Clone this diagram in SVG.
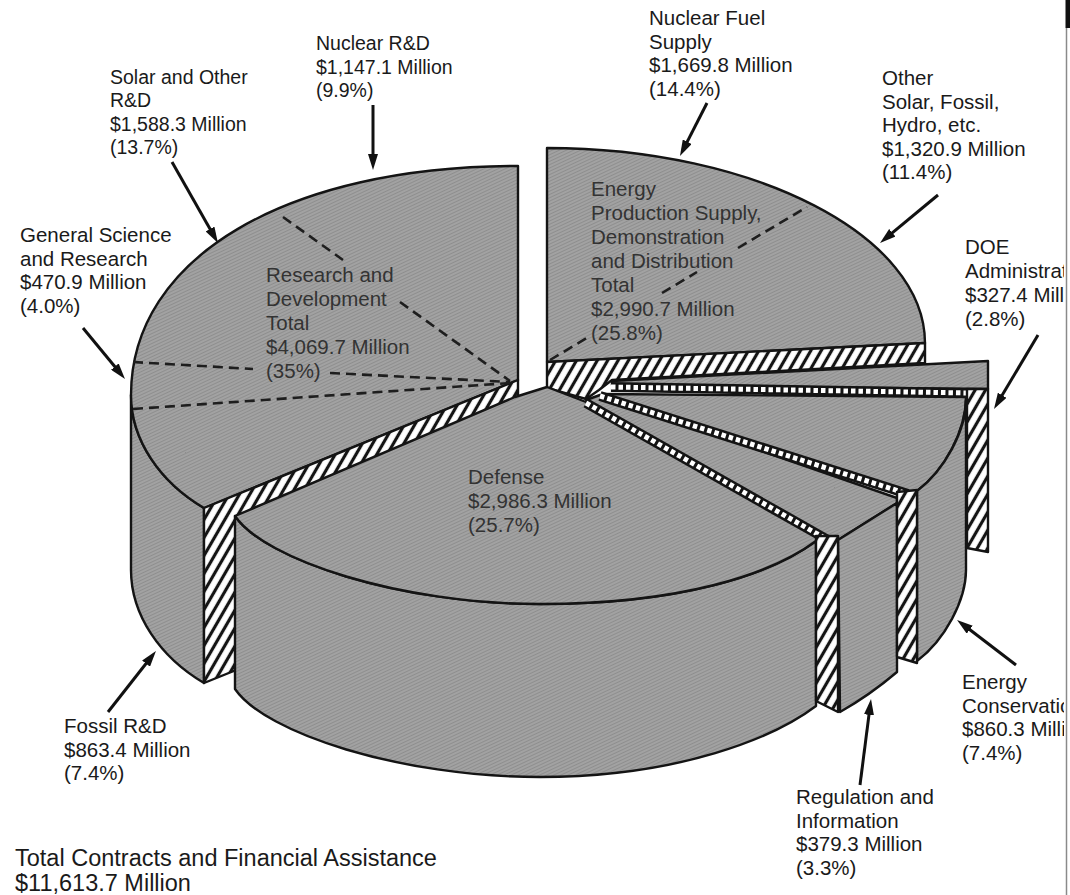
<svg xmlns="http://www.w3.org/2000/svg" width="1070" height="895" viewBox="0 0 1070 895">
  <defs>
    <!-- fine grey texture used on the visible faces of the pie -->
    <pattern id="tex" width="3" height="3" patternUnits="userSpaceOnUse" patternTransform="rotate(-25)">
      <rect width="3" height="3" fill="#a2a2a2"/>
      <rect width="3" height="1" fill="#8e8e8e"/>
    </pattern>
    <!-- diagonal hatching for the cut faces -->
    <pattern id="hatch" width="9" height="9" patternUnits="userSpaceOnUse" patternTransform="rotate(30)">
      <rect width="9" height="9" fill="#fff"/>
      <line x1="4.5" y1="0" x2="4.5" y2="9" stroke="#141414" stroke-width="3.2"/>
    </pattern>
    <marker id="ah" viewBox="0 0 16 10" refX="8" refY="5" markerWidth="16" markerHeight="10" markerUnits="userSpaceOnUse" orient="auto">
      <path d="M0,0 L16,5 L0,10 Z" fill="#111"/>
    </marker>
    <clipPath id="page">
      <rect x="0" y="0" width="1064" height="895"/>
    </clipPath>
  </defs>
  <style>
    .face { fill: url(#tex); stroke: #141414; stroke-width: 2.4; stroke-linejoin: round; }
    .cut { fill: url(#hatch); stroke: #141414; stroke-width: 2.4; stroke-linejoin: round; }
    .dash { fill: none; stroke: #1e1e1e; stroke-width: 2.6; stroke-dasharray: 10 6; }
    .lad-b { fill: none; stroke: #141414; stroke-width: 10; }
    .lad-w { fill: none; stroke: #fff; stroke-width: 5; stroke-dasharray: 4.5 3; }
    .lbl { font-family: "Liberation Sans", Arial, Helvetica, sans-serif; font-size: 20.5px; fill: #1a1a1a; }
    .sm { font-size: 19.5px; }
    .in { font-family: "Liberation Sans", Arial, Helvetica, sans-serif; font-size: 20.5px; fill: #333; }
    .ttl { font-family: "Liberation Sans", Arial, Helvetica, sans-serif; font-size: 23.5px; fill: #1a1a1a; }
    .arrow { fill: none; stroke: #111; stroke-width: 3; marker-end: url(#ah); }
  </style>

  <rect width="1070" height="895" fill="#fff"/>

  <!-- Research and Development (back left) -->
  <g id="slice-rnd">
    <path class="face" d="M131,395 C131,440 160,482 204,508 L204,683 C160,657 131,615 131,570 Z"/>
    <path class="face" d="M518,380 L518,166 C286,166 131,258 131,395 C131,440 160,482 204,508 Z"/>
    <path class="cut" d="M518,380 L204,508 L204,683 L518,556 Z"/>
    <line class="dash" x1="283" y1="217" x2="343" y2="260"/>
    <line class="dash" x1="400" y1="302" x2="510" y2="381"/>
    <line class="dash" x1="133" y1="362" x2="253" y2="369"/>
    <line class="dash" x1="330" y1="373" x2="510" y2="382"/>
    <line class="dash" x1="133" y1="409" x2="510" y2="383"/>
    <text class="in">
      <tspan x="266" y="282">Research and</tspan>
      <tspan x="266" y="306">Development</tspan>
      <tspan x="266" y="330">Total</tspan>
      <tspan x="266" y="354">$4,069.7 Million</tspan>
      <tspan x="266" y="378">(35%)</tspan>
    </text>
  </g>

  <!-- Energy Production, Supply, Demonstration and Distribution (back right) -->
  <g id="slice-energy-production">
    <path class="face" d="M547,362 L547,148 C755,148 925,236 925,343 Z"/>
    <path class="cut" d="M547,362 L925,343 L925,363 L612,380 L599,390 L586,399 L547,388 Z"/>
    <line class="dash" x1="550" y1="360" x2="590" y2="336"/>
    <line class="dash" x1="662" y1="293" x2="697" y2="272"/>
    <line class="dash" x1="738" y1="248" x2="807" y2="207"/>
    <text class="in">
      <tspan x="591" y="196">Energy</tspan>
      <tspan x="591" y="220">Production Supply,</tspan>
      <tspan x="591" y="244">Demonstration</tspan>
      <tspan x="591" y="268">and Distribution</tspan>
      <tspan x="591" y="292">Total</tspan>
      <tspan x="591" y="316">$2,990.7 Million</tspan>
      <tspan x="591" y="340">(25.8%)</tspan>
    </text>
  </g>

  <!-- DOE Administration (thin wedge) -->
  <g id="slice-doe">
    <path class="face" d="M612,381 L988,361 L988,389 L612,385 Z"/>
  </g>

  <!-- Energy Conservation -->
  <g id="slice-conservation">
    <path class="face" d="M603,394 L966,397 C966,430 945,470 917,491 L905,494 Z"/>
    <path class="face" d="M966,400 C966,430 945,470 917,491 L917,661 C945,640 966,600 966,570 Z"/>
  </g>

  <!-- Regulation and Information -->
  <g id="slice-regulation">
    <path class="face" d="M586,400 L600,395 L897,498 L897,503 L838,540 L826,538 Z"/>
    <path class="face" d="M838,540 L897,503 L897,672 Q870,695 840,712 Z"/>
  </g>

  <!-- Defense (front) -->
  <g id="slice-defense">
    <path class="face" d="M235,516 C265,560 400,604 540,604 C680,604 770,575 816,541 L816,706 C775,737 680,777 540,777 C400,777 265,733 235,689 Z"/>
    <path class="face" d="M547,387 L515,397 L235,516 C265,560 400,604 540,604 C680,604 770,575 816,541 L826,538 L586,402 Z"/>
    <text class="in">
      <tspan x="468" y="484">Defense</tspan>
      <tspan x="468" y="508">$2,986.3 Million</tspan>
      <tspan x="468" y="532">(25.7%)</tspan>
    </text>
  </g>

  <!-- separator edges between the thin wedges -->
  <g id="separators">
    <path class="lad-b" d="M611,387 L968,393"/>
    <path class="lad-w" d="M611,387 L968,393"/>
    <path class="lad-b" d="M600,396 L908,494"/>
    <path class="lad-w" d="M600,396 L908,494"/>
    <path class="lad-b" d="M586,403 L828,540"/>
    <path class="lad-w" d="M586,403 L828,540"/>
    <path class="cut" d="M967,389 L988,389 L988,552 L967,548 Z"/>
    <path class="cut" d="M897,492 L917,490 L917,663 L897,657 Z"/>
    <path class="cut" d="M816,536 L838,536 L838,712 L816,701 Z"/>
  </g>

  <!-- pointer arrows -->
  <g id="connectors">
    <line class="arrow" x1="373" y1="105" x2="373" y2="162"/>
    <line class="arrow" x1="172" y1="162" x2="214" y2="236"/>
    <line class="arrow" x1="707" y1="103" x2="683.6" y2="148.9"/>
    <line class="arrow" x1="938" y1="195" x2="886.2" y2="237.9"/>
    <line class="arrow" x1="83" y1="328" x2="119.9" y2="372.8"/>
    <line class="arrow" x1="1038" y1="335" x2="998.1" y2="402.1"/>
    <line class="arrow" x1="1016" y1="665" x2="963.4" y2="624.8"/>
    <line class="arrow" x1="860" y1="785" x2="870" y2="706.9"/>
    <line class="arrow" x1="108" y1="712" x2="151" y2="657.3"/>
  </g>

  <!-- outer labels -->
  <g id="label-nuclear-rnd">
    <text class="lbl sm">
      <tspan x="316" y="50">Nuclear R&amp;D</tspan>
      <tspan x="316" y="73.5">$1,147.1 Million</tspan>
      <tspan x="316" y="97">(9.9%)</tspan>
    </text>
  </g>
  <g id="label-solar-rnd">
    <text class="lbl sm">
      <tspan x="110" y="83.5">Solar and Other</tspan>
      <tspan x="110" y="107">R&amp;D</tspan>
      <tspan x="110" y="130.5">$1,588.3 Million</tspan>
      <tspan x="110" y="154">(13.7%)</tspan>
    </text>
  </g>
  <g id="label-nuclear-fuel">
    <text class="lbl">
      <tspan x="649" y="25">Nuclear Fuel</tspan>
      <tspan x="649" y="48.5">Supply</tspan>
      <tspan x="649" y="72">$1,669.8 Million</tspan>
      <tspan x="649" y="95.5">(14.4%)</tspan>
    </text>
  </g>
  <g id="label-other">
    <text class="lbl">
      <tspan x="882" y="85">Other</tspan>
      <tspan x="882" y="108.5">Solar, Fossil,</tspan>
      <tspan x="882" y="132">Hydro, etc.</tspan>
      <tspan x="882" y="155.5">$1,320.9 Million</tspan>
      <tspan x="882" y="179">(11.4%)</tspan>
    </text>
  </g>
  <g id="label-general-science">
    <text class="lbl">
      <tspan x="20" y="242">General Science</tspan>
      <tspan x="20" y="265.5">and Research</tspan>
      <tspan x="20" y="289">$470.9 Million</tspan>
      <tspan x="20" y="312.5">(4.0%)</tspan>
    </text>
  </g>
  <g id="label-doe" clip-path="url(#page)">
    <text class="lbl">
      <tspan x="965" y="254">DOE</tspan>
      <tspan x="965" y="278">Administrat</tspan>
      <tspan x="965" y="302">$327.4 Mill</tspan>
      <tspan x="965" y="326">(2.8%)</tspan>
    </text>
  </g>
  <g id="label-conservation" clip-path="url(#page)">
    <text class="lbl">
      <tspan x="962" y="689">Energy</tspan>
      <tspan x="962" y="712.5">Conservatio</tspan>
      <tspan x="962" y="736">$860.3 Milli</tspan>
      <tspan x="962" y="759.5">(7.4%)</tspan>
    </text>
  </g>
  <g id="label-regulation">
    <text class="lbl">
      <tspan x="796" y="804">Regulation and</tspan>
      <tspan x="796" y="827.5">Information</tspan>
      <tspan x="796" y="851">$379.3 Million</tspan>
      <tspan x="796" y="874.5">(3.3%)</tspan>
    </text>
  </g>
  <g id="label-fossil">
    <text class="lbl">
      <tspan x="64" y="733">Fossil R&amp;D</tspan>
      <tspan x="64" y="757">$863.4 Million</tspan>
      <tspan x="64" y="780">(7.4%)</tspan>
    </text>
  </g>
  <g id="label-total">
    <text class="ttl">
      <tspan x="15" y="866">Total Contracts and Financial Assistance</tspan>
      <tspan x="15" y="891">$11,613.7 Million</tspan>
    </text>
  </g>

  <!-- page edge -->
  <rect x="1065.5" y="0" width="4.5" height="28" fill="#111"/>
  <line x1="1066.5" y1="28" x2="1066.5" y2="895" stroke="#8a8a8a" stroke-width="1.5"/>
</svg>
